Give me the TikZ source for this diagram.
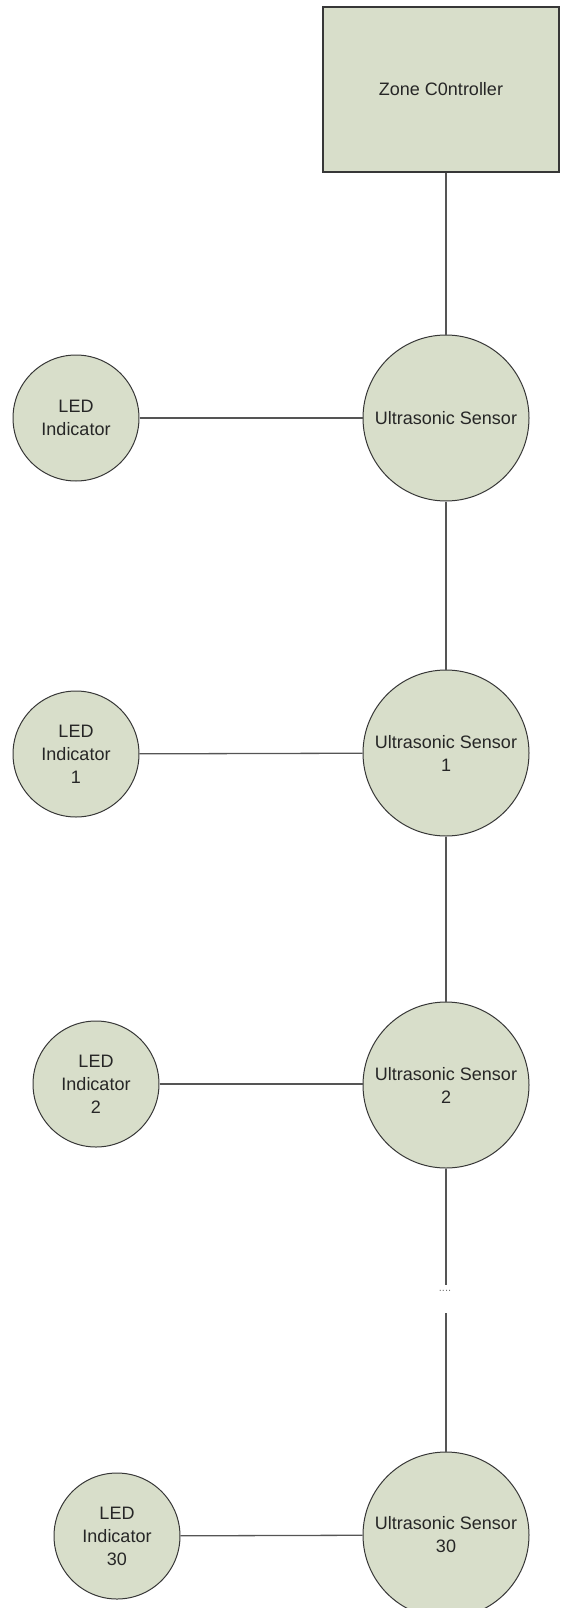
\documentclass[tikz,border=0pt]{standalone}
\usepackage{fontspec}
\setmainfont{Liberation Sans}
\usepackage{xcolor}
\usepackage{tikz}
\usetikzlibrary{positioning}

\definecolor{sagefill}{RGB}{216,222,202}
\definecolor{rimgray}{RGB}{55,55,55}
\definecolor{wiregray}{RGB}{85,85,85}

\begin{document}
\begin{tikzpicture}[x=1pt, y=-1pt,
            every node/.style={font=\fontsize{18}{23}\selectfont, align=center, text=black!85},
            sensor/.style={draw=rimgray, fill=sagefill, circle, minimum size=166pt, inner sep=0pt, line width=1pt},
            led/.style={draw=rimgray, fill=sagefill, circle, minimum size=126pt, inner sep=0pt, line width=1pt},
            ctrlbox/.style={draw=rimgray, fill=sagefill, minimum width=236pt, minimum height=165pt, line width=1.2pt},
            wire/.style={draw=wiregray, line width=1.3pt},
        ]
        \useasboundingbox (0,0) rectangle (561,1608);
        \begin{scope}
        \clip (0,0) rectangle (561,1608);
        % controller on top
        \node[ctrlbox] (zc) at (441,89.5) {Zone C0ntroller};
        % sensor chain
        \node[sensor] (s0) at (446,418) {Ultrasonic Sensor};
        \node[sensor] (s1) at (446,753) {Ultrasonic Sensor\\1};
        \node[sensor] (s2) at (446,1085) {Ultrasonic Sensor\\2};
        \node[sensor] (s30) at (446,1535) {Ultrasonic Sensor\\30};
        % indicators
        \node[led] (l0) at (76,418) {LED\\Indicator};
        \node[led] (l1) at (76,754) {LED\\Indicator\\1};
        \node[led] (l2) at (96,1084) {LED\\Indicator\\2};
        \node[led] (l30) at (117,1536) {LED\\Indicator\\30};
        % gap in the chain
        \coordinate (gaptop) at (446,1285);
        \coordinate (gapbot) at (446,1313);
        \node[font=\fontsize{11}{12}\selectfont, text=black!55, inner sep=0pt] (dots) at (445,1291) {....};

        \draw[wire] (zc.south -| s0.north) -- (s0.north);
        \draw[wire] (s0) -- (s1);
        \draw[wire] (s1) -- (s2);
        \draw[wire] (s2) -- (gaptop);
        \draw[wire] (gapbot) -- (s30);
        \draw[wire] (l0) -- (s0);
        \draw[wire] (l1) -- (s1);
        \draw[wire] (l2.east) -- (l2.east -| s2.west);
        \draw[wire] (l30) -- (s30);
        \end{scope}
        \end{tikzpicture}
\end{document}
